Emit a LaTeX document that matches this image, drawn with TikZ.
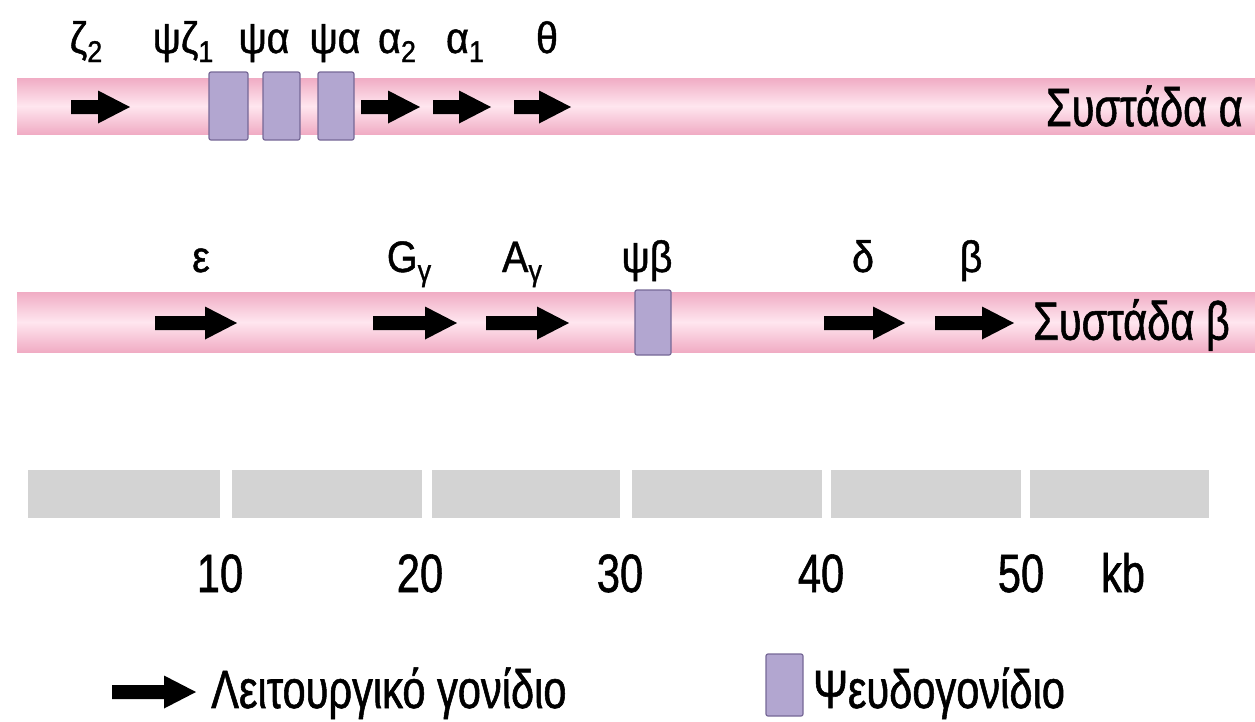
\documentclass[tikz,border=0pt]{standalone}
\usepackage{fontspec}
\setmainfont{Liberation Sans}[FakeStretch=0.77, FakeBold=1]
\newfontfamily\labelfont{Liberation Sans}[FakeStretch=0.9, FakeBold=1]
\definecolor{bandedge}{RGB}{240,172,196}
\definecolor{bandmid}{RGB}{255,230,239}
\definecolor{pseudofill}{RGB}{178,166,208}
\definecolor{pseudoline}{RGB}{118,104,150}
\definecolor{scalegray}{RGB}{211,211,211}
% lowered index inside a gene label
\newcommand\lowidx[1]{\raisebox{-9pt}{\fontsize{30}{32}\selectfont #1}}
% black gene arrow: start x, tip x, centre y
\newcommand\genearrow[3]{%
  \fill[black] (#1,{#3-7}) -- ({#2-32},{#3-7}) -- ({#2-32},{#3-16.5})
    -- (#2,#3) -- ({#2-32},{#3+16.5}) -- ({#2-32},{#3+7}) -- (#1,{#3+7}) -- cycle;}
\tikzset{
  band/.style={top color=bandedge, bottom color=bandedge, middle color=bandmid},
  pseudo/.style={fill=pseudofill, draw=pseudoline, line width=1.2pt, rounded corners=2pt},
  genelabel/.style={anchor=base, inner sep=0pt, font=\labelfont\fontsize{44}{48}\selectfont},
  bigtext/.style={inner sep=0pt, font=\fontsize{54}{60}\selectfont},
  scaleseg/.style={fill=scalegray},
}
\begin{document}
\begin{tikzpicture}[x=1pt,y=-1pt]
\useasboundingbox (0,0) rectangle (1255,721);

% alpha cluster
\shade[band] (17,78) rectangle (1255,134);
\node[genelabel] (lz2) at (86,53) {ζ\lowidx{2}};
\node[genelabel] (lpz1) at (183,53) {ψζ\lowidx{1}};
\node[genelabel] (lpa1) at (264,53) {ψα};
\node[genelabel] (lpa2) at (335,53) {ψα};
\node[genelabel] (la2) at (397,53) {α\lowidx{2}};
\node[genelabel] (la1) at (465,53) {α\lowidx{1}};
\node[genelabel] (lth) at (547,53) {θ};
\genearrow{71}{130}{107}
\draw[pseudo] (209,72) rectangle (248,140);
\draw[pseudo] (263,72) rectangle (300,140);
\draw[pseudo] (318,72) rectangle (354,140);
\genearrow{361}{420}{107}
\genearrow{433}{491}{107}
\genearrow{514}{571}{107}
\node[bigtext, anchor=east] (ca) at (1243,106) {Συστάδα α};

% beta cluster
\shade[band] (17,292) rectangle (1255,352);
\node[genelabel] (le) at (201,272) {ε};
\node[genelabel] (lgg) at (409,272) {G\lowidx{γ}};
\node[genelabel] (lag) at (522,272) {A\lowidx{γ}};
\node[genelabel] (lpb) at (647,272) {ψβ};
\node[genelabel] (ld) at (863,272) {δ};
\node[genelabel] (lb) at (971,272) {β};
\genearrow{155}{237}{323}
\genearrow{373}{457}{323}
\genearrow{486}{569}{323}
\draw[pseudo] (635,290) rectangle (671,355);
\genearrow{824}{905}{323}
\genearrow{935}{1014}{323}
\node[bigtext, anchor=west] (cb) at (1033,325) {Συστάδα β};

% kilobase scale
\fill[scaleseg] (28,470) rectangle (220,518);
\fill[scaleseg] (232,470) rectangle (422,518);
\fill[scaleseg] (432,470) rectangle (620,518);
\fill[scaleseg] (632,470) rectangle (822,518);
\fill[scaleseg] (831,470) rectangle (1021,518);
\fill[scaleseg] (1030,470) rectangle (1209,518);
\node[bigtext, anchor=base] (k10) at (220,592) {10};
\node[bigtext, anchor=base] (k20) at (420,592) {20};
\node[bigtext, anchor=base] (k30) at (620,592) {30};
\node[bigtext, anchor=base] (k40) at (821,592) {40};
\node[bigtext, anchor=base] (k50) at (1021,592) {50};
\node[bigtext, anchor=base] (kkb) at (1123,592) {kb};

% legend
\genearrow{112}{196}{692}
\node[bigtext, anchor=base west] (lfunc) at (211,708) {Λειτουργικό γονίδιο};
\draw[pseudo] (766,654) rectangle (803,716);
\node[bigtext, anchor=base west] (lpseudo) at (813,708) {Ψευδογονίδιο};
\end{tikzpicture}
\end{document}
